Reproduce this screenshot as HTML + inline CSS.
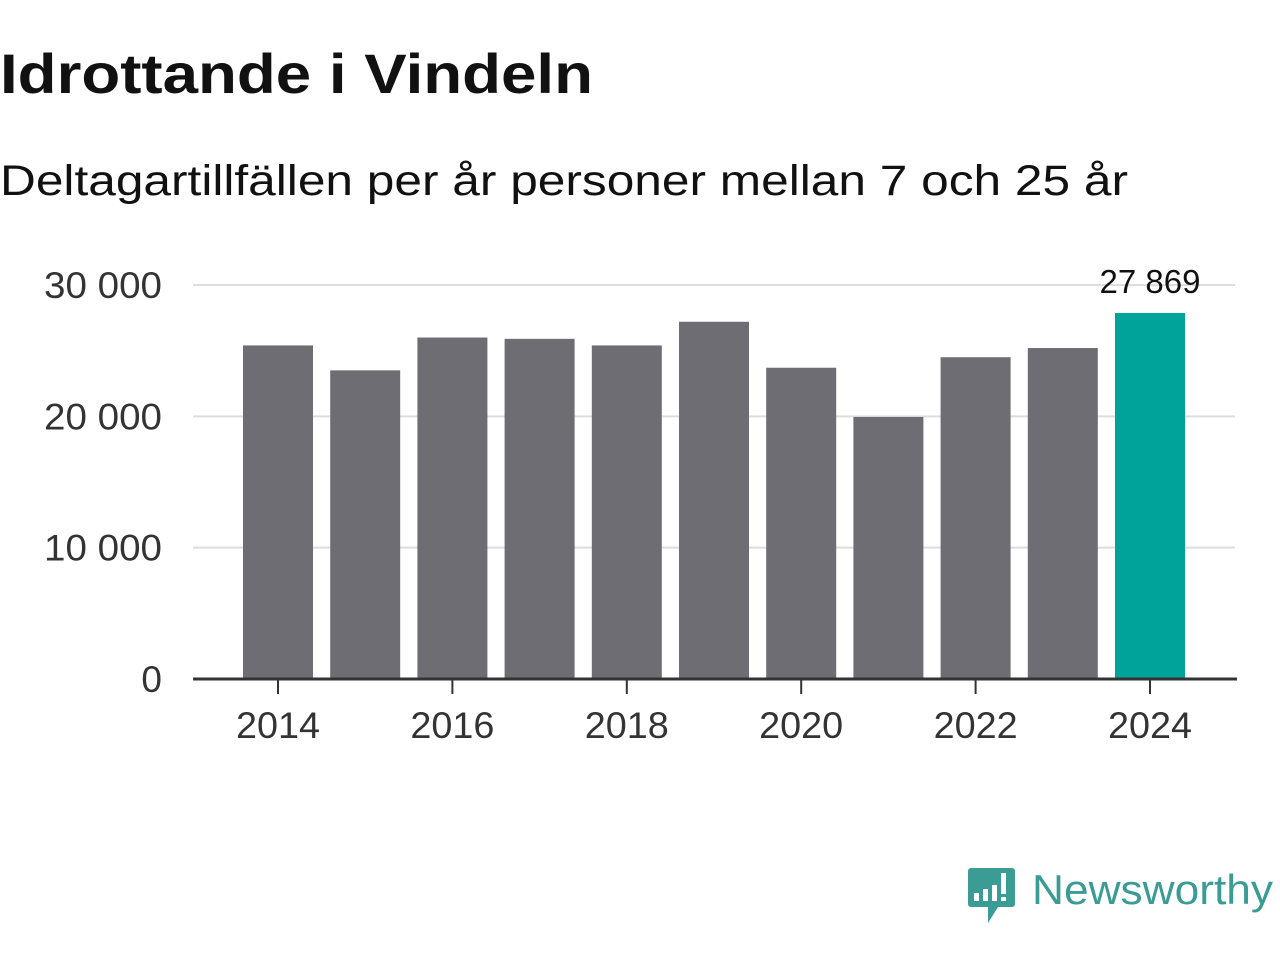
<!DOCTYPE html>
<html><head><meta charset="utf-8"><style>
body{margin:0;width:1280px;height:960px;background:#fff;font-family:"Liberation Sans","DejaVu Sans",sans-serif;overflow:hidden}
</style></head><body>
<svg width="1280" height="960">
<text x="0" y="93" font-size="56" font-weight="bold" fill="#111" textLength="593" lengthAdjust="spacingAndGlyphs">Idrottande i Vindeln</text>
<text x="0" y="195" font-size="43" fill="#111" textLength="1128" lengthAdjust="spacingAndGlyphs">Deltagartillfällen per år personer mellan 7 och 25 år</text>
<g id="grid"></g><g id="bars"></g><g id="xaxis"></g>
<g>
<path d="M968 868 h44 a3 3 0 0 1 3 3 v33 a3 3 0 0 1 -3 3 h-14 l-10 16 v-16 h-17 a3 3 0 0 1 -3 -3 v-33 a3 3 0 0 1 3 -3z" fill="#3a9c94"/>
<rect x="974" y="893" width="5" height="8" fill="#fff"/><rect x="983" y="889" width="5" height="12" fill="#fff"/><rect x="992" y="885" width="5" height="16" fill="#fff"/><rect x="1001" y="873" width="5" height="21" fill="#fff"/><rect x="1001" y="897" width="5" height="4" fill="#fff"/>
<text x="1032" y="904" font-size="42" fill="#3a9c94" textLength="241" lengthAdjust="spacingAndGlyphs">Newsworthy</text>
</g>
</svg>
<script>
const years=[2014,2015,2016,2017,2018,2019,2020,2021,2022,2023,2024];
const values=[25400,23500,26000,25900,25400,27200,23700,19950,24500,25200,27869];
const yTicks=[0,10000,20000,30000];
const yTickLabels=["0","10 000","20 000","30 000"];
const xTicks=[2014,2016,2018,2020,2022,2024];
const NS="http://www.w3.org/2000/svg";
const y=v=>679-v*(394/30000);
const x=yr=>278+(yr-2014)*87.2;
function mk(t,a,p){const e=document.createElementNS(NS,t);for(const k in a)e.setAttribute(k,a[k]);p.appendChild(e);return e;}
const grid=document.getElementById('grid'),bars=document.getElementById('bars'),xa=document.getElementById('xaxis');
yTicks.forEach((v,i)=>{
 if(v>0){const l=mk('line',{x1:193,x2:1235,y1:y(v),y2:y(v),stroke:'#ddd','stroke-width':2},grid);
 
 }
 const t=mk('text',{x:162,y:y(v)+13,'font-size':37,'text-anchor':'end',fill:'#333'},grid);t.textContent=yTickLabels[i];
 if(v>0){t.setAttribute('textLength',v>=10000?118:0);t.setAttribute('lengthAdjust','spacingAndGlyphs');}
 
 
});
years.forEach((yr,i)=>{
 const r=mk('rect',{x:x(yr)-35,y:y(values[i]),width:70,height:679-y(values[i]),fill:yr===2024?'#00a39a':'#6e6d73'},bars);
 
 
});
const last=values.length-1;
const lb=mk('text',{x:x(years[last]),y:y(values[last])-20,'font-size':33,'text-anchor':'middle',fill:'#111'},bars);
lb.textContent=values[last].toLocaleString('sv-SE').replace(/\s/g,' ');


const ax=mk('line',{x1:193,x2:1237,y1:679,y2:679,stroke:'#333','stroke-width':3},xa);


xTicks.forEach(yr=>{
 mk('line',{x1:x(yr),x2:x(yr),y1:679,y2:694,stroke:'#333','stroke-width':2},xa);
 const t=mk('text',{x:x(yr),y:738,'font-size':37,'text-anchor':'middle',fill:'#333','textLength':84,'lengthAdjust':'spacingAndGlyphs'},xa);t.textContent=yr;
 
 
});
</script>
</body></html>
